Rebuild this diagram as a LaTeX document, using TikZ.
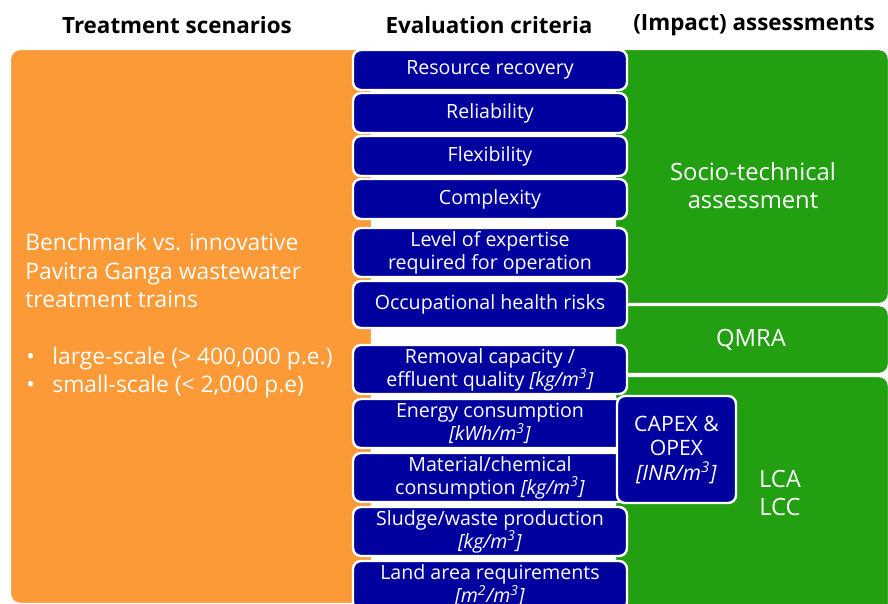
\documentclass[tikz,border=0pt]{standalone}
\usepackage{fontspec}
\setmainfont{Open Sans}
\usetikzlibrary{positioning}

\definecolor{scenorange}{HTML}{FC9A37}
\definecolor{critblue}{HTML}{00009E}
\definecolor{assessgreen}{HTML}{22A012}

% unit in brackets, set in italics
\newcommand{\un}[1]{\textit{[#1]}}

\begin{document}
\begin{tikzpicture}[
  x=0.5pt, y=-0.5pt,
  font=\fontsize{11.4}{14.25}\selectfont,
  head/.style={font=\fontsize{11.2}{12}\selectfont\bfseries},
  area/.style={draw=white, line width=1.2pt, rounded corners=5pt, anchor=north west, inner sep=0pt, outer sep=0pt},
  crit/.style={draw=white, line width=1.2pt, fill=critblue, rounded corners=4pt, text=white, align=center,
    minimum width=137pt, minimum height=20pt, inner sep=1pt, outer sep=0pt, font=\fontsize{9.8}{11.5}\selectfont},
  tall/.style={minimum height=24.5pt},
  lbl/.style={text=white, align=center, font=\fontsize{11.9}{14}\selectfont}
]
  \useasboundingbox (0,0) rectangle (888,604);
  \clip (0,0) rectangle (888,604);

  % column headers
  \node[head] (hscen) at (177,25) {Treatment scenarios};
  \node[head] (hcrit) at (489,25) {Evaluation criteria};
  \node[head] (hassess) at (754,25) {(Impact) assessments};

  % background areas
  \node[area, fill=scenorange, minimum width=181pt, minimum height=277.5pt] (scen) at (10,49) {};
  \node[area, fill=assessgreen, minimum width=137pt, minimum height=127.5pt] (socio) at (615,49) {};
  \node[area, fill=assessgreen, minimum width=137pt, minimum height=34.5pt] (qmra) at (615,305) {};
  \node[area, fill=assessgreen, minimum width=137pt, minimum height=125pt] (lca) at (615,376) {};

  \node[text=white, align=left, anchor=west, inner sep=0pt] (scentxt) at (25,316) {Benchmark vs. innovative\\Pavitra Ganga wastewater\\treatment trains\\[14pt]
    \makebox[13.5pt][l]{\hspace{0.5pt}\textbullet}large-scale (> 400,000 p.e.)\\
    \makebox[13.5pt][l]{\hspace{0.5pt}\textbullet}small-scale (< 2,000 p.e)};
  \node[lbl] (sociotxt) at (753,186) {Socio-technical\\assessment};
  \node[lbl] (qmratxt) at (751,340) {QMRA};
  \node[lbl] (lcatxt) at (780,493) {LCA\\LCC};

  % evaluation criteria
  \node[crit, anchor=north] (rec) at (490,50) {Resource recovery};
  \node[crit, below=1.5pt of rec] (rel) {Reliability};
  \node[crit, below=1.5pt of rel] (flex) {Flexibility};
  \node[crit, below=1.5pt of flex] (cplx) {Complexity};
  \node[crit, tall, below=4.5pt of cplx] (expert) {Level of expertise\\required for operation};
  \node[crit, minimum height=23.5pt, below=2pt of expert] (ohr) {Occupational health risks};
  \node[crit, tall, below=8.5pt of ohr] (removal) {Removal capacity /\\effluent quality \un{kg/m\textsuperscript{3}}};
  \node[crit, tall, below=2.5pt of removal] (energy) {Energy consumption\\\un{kWh/m\textsuperscript{3}}};
  \node[crit, tall, below=2.5pt of energy] (material) {Material/chemical\\consumption \un{kg/m\textsuperscript{3}}};
  \node[crit, tall, below=2.5pt of material] (sludge) {Sludge/waste production\\\un{kg/m\textsuperscript{3}}};
  \node[crit, tall, below=2.5pt of sludge] (land) {Land area requirements\\\un{m\textsuperscript{2}/m\textsuperscript{3}}};

  \node[crit, minimum width=59.5pt, minimum height=53.5pt, font=\fontsize{10.6}{12.25}\selectfont] (capex) at (676.5,449.5)
    {CAPEX \&\\OPEX\\\un{INR/m\textsuperscript{3}}};
\end{tikzpicture}
\end{document}
